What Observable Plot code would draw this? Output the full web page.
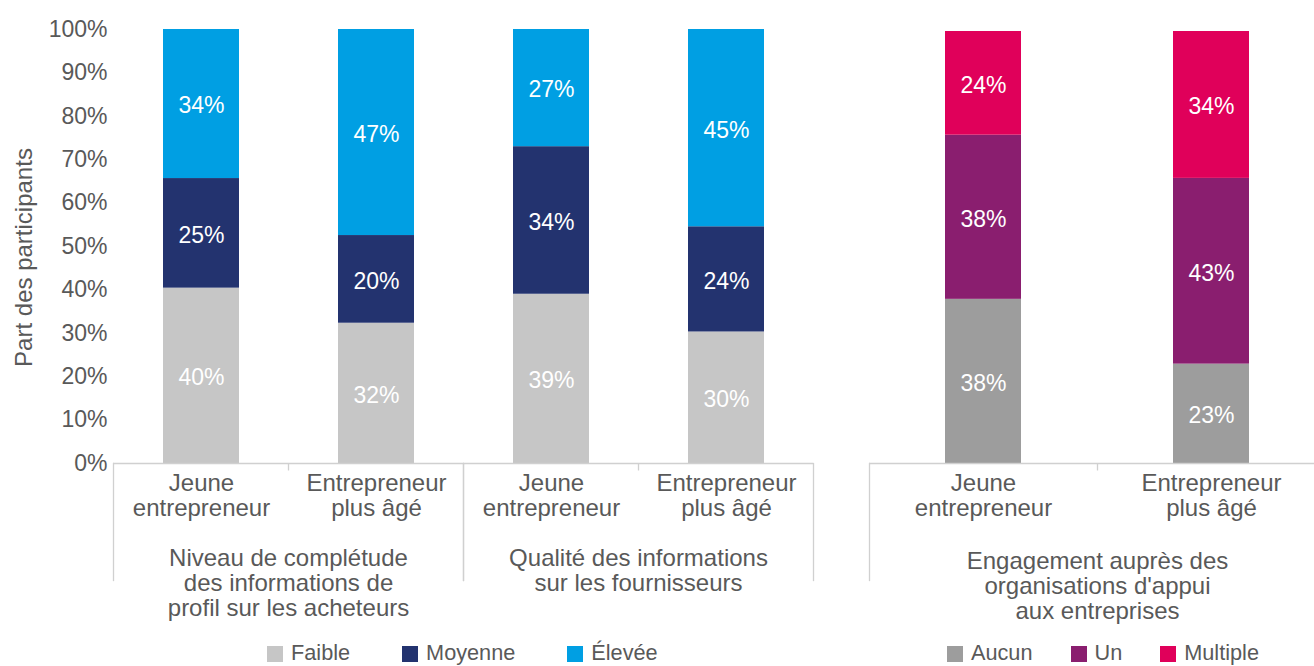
<!DOCTYPE html>
<html><head><meta charset="utf-8">
<script src="https://cdn.jsdelivr.net/npm/d3@7"></script>
<script src="https://cdn.jsdelivr.net/npm/@observablehq/plot@0.6"></script>
<style>
body{margin:0;background:#fff;overflow:hidden;font-family:"Liberation Sans",Arial,sans-serif;color:#595959}
#wrap{position:relative;width:1314px;height:666px;overflow:hidden}
#left{position:absolute;left:0;top:0;width:830px}
#right{position:absolute;left:830px;top:0;width:495px}
#wrap svg{max-width:none !important}
.legend{position:absolute;top:642px;display:flex;align-items:center;font-size:21.7px;line-height:21px;white-space:nowrap}
.item{display:flex;align-items:center}
.sw{width:16px;height:16px;margin-right:8px;position:relative;top:1px}
</style></head><body>
<div id="wrap"><div id="left"></div><div id="right"></div>
<div class="legend" id="legL" style="left:267px;gap:52px"></div>
<div class="legend" id="legR" style="left:947px;gap:38px"></div></div>
<script>
// ---- data ----
const ages = ["Jeune entrepreneur", "Entrepreneur plus âgé"];
const ageLabels = ["Jeune\nentrepreneur", "Entrepreneur\nplus âgé"];
const leftGroups = ["Niveau de complétude des informations de profil sur les acheteurs", "Qualité des informations sur les fournisseurs"];
const leftGroupLabels = ["Niveau de complétude\ndes informations de\nprofil sur les acheteurs", "Qualité des informations\nsur les fournisseurs"];
const rightGroups = ["Engagement auprès des organisations d'appui aux entreprises"];
const rightGroupLabels = ["Engagement auprès des\norganisations d'appui\naux entreprises"];
const leftSeries = ["Faible", "Moyenne", "Élevée"];
const leftColors = ["#c6c6c6", "#23336f", "#009fe3"];
// bars: [Niveau/Jeune, Niveau/Plus âgé, Qualité/Jeune, Qualité/Plus âgé]
const faible = [40, 32, 39, 30];
const moyenne = [25, 20, 34, 24];
const elevee = [34, 47, 27, 45];
const rightSeries = ["Aucun", "Un", "Multiple"];
const rightColors = ["#9d9d9d", "#8a1e6f", "#e0005a"];
// bars: [Jeune, Plus âgé]
const aucun = [38, 23];
const un = [38, 43];
const multiple = [24, 34];
const yTicks = [0, 0.1, 0.2, 0.3, 0.4, 0.5, 0.6, 0.7, 0.8, 0.9, 1];
const yLabel = "Part des participants";

// ---- tables ----
const leftValues = [faible, moyenne, elevee];
const leftRows = [];
leftGroups.forEach((g, gi) => ages.forEach((a, ai) => leftSeries.forEach((s, si) => {
  leftRows.push({group: g, age: a, series: s, value: leftValues[si][gi * 2 + ai]});
})));
const rightValues = [aucun, un, multiple];
const rightRows = [];
ages.forEach((a, ai) => rightSeries.forEach((s, si) => {
  rightRows.push({group: rightGroups[0], age: a, series: s, value: rightValues[si][ai]});
}));

const axisColor = "#d0d0d0";
const textColor = "#595959";
const font = "'Liberation Sans', Arial, sans-serif";
const tickSymbol = {draw(ctx) { ctx.moveTo(0, 0); ctx.lineTo(0, 7); }};
const H = 640, MB = 177;

function panel({rows, groups, groupLabels, series, colors, width, marginLeft, marginRight, marginTop, pInner, yAxis, rightEdge, groupDy}) {
  const plotH = H - MB - marginTop;
  const sep = {stroke: axisColor, strokeWidth: 1.3, insetTop: plotH, insetBottom: -117};
  const marks = [];
  if (yAxis) {
    marks.push(Plot.axisY({ticks: yTicks, tickFormat: d3.format(".0%"), tickSize: 0, tickPadding: 6,
      label: null, fill: textColor, fontSize: 23}));
    marks.push(Plot.text([yLabel], {fx: () => groups[0], text: d => d, frameAnchor: "left", rotate: -90,
      textAnchor: "middle", lineAnchor: "top", dx: -99, dy: 11, fontSize: 24, fill: textColor}));
  }
  marks.push(
    Plot.barY(rows, Plot.stackY({offset: "normalize", order: null, x: "age", y: "value", fx: "group", fill: "series"})),
    Plot.text(rows, Plot.stackY({offset: "normalize", order: null, x: "age", y: "value", fx: "group",
      text: d => d.value + "%", fill: "white", fontSize: 23, dy: 2})),
    Plot.ruleY([0], {stroke: axisColor, strokeWidth: 1.3}),
    Plot.frame({anchor: "left", ...sep}),
    Plot.dot([0], {frameAnchor: "bottom", symbol: tickSymbol, stroke: axisColor, strokeWidth: 1.3, fill: "none"}),
    Plot.text(ages, {x: d => d, text: (d, i) => ageLabels[i], frameAnchor: "bottom", lineAnchor: "top", dy: 10, lineHeight: 1.04, fontSize: 24, fill: textColor}),
    Plot.text(groups, {fx: d => d, text: (d, i) => groupLabels[i], frameAnchor: "bottom", lineAnchor: "top", dy: groupDy, lineHeight: 1.04, fontSize: 24, fill: textColor})
  );
  if (rightEdge) marks.push(Plot.frame({anchor: "right", ...sep}));
  return Plot.plot({
    width, height: H, marginTop, marginBottom: MB, marginLeft, marginRight,
    style: {fontFamily: font, fontSize: "23px", color: textColor, background: "transparent", overflow: "visible", maxWidth: "none"},
    fx: {domain: groups, padding: 0, axis: null},
    x: {domain: ages, paddingInner: pInner, paddingOuter: pInner / 2, axis: null},
    y: {domain: [0, 1], axis: null},
    color: {domain: series, range: colors},
    marks
  });
}

document.getElementById("left").append(panel({rows: leftRows, groups: leftGroups, groupLabels: leftGroupLabels,
  series: leftSeries, colors: leftColors, width: 830, marginLeft: 113, marginRight: 17, marginTop: 29,
  pInner: 1 - 76 / 175, yAxis: true, rightEdge: true, groupDy: 85}));
document.getElementById("right").append(panel({rows: rightRows, groups: rightGroups, groupLabels: rightGroupLabels,
  series: rightSeries, colors: rightColors, width: 495, marginLeft: 39, marginRight: 0, marginTop: 31,
  pInner: 1 - 76 / 228, yAxis: false, rightEdge: false, groupDy: 88}));

function legend(el, series, colors) {
  series.forEach((s, i) => {
    const it = document.createElement("div"); it.className = "item";
    const sw = document.createElement("span"); sw.className = "sw"; sw.style.background = colors[i];
    const t = document.createElement("span"); t.textContent = s;
    it.append(sw, t); el.append(it);
  });
}
legend(document.getElementById("legL"), leftSeries, leftColors);
legend(document.getElementById("legR"), rightSeries, rightColors);
</script>
</body></html>
